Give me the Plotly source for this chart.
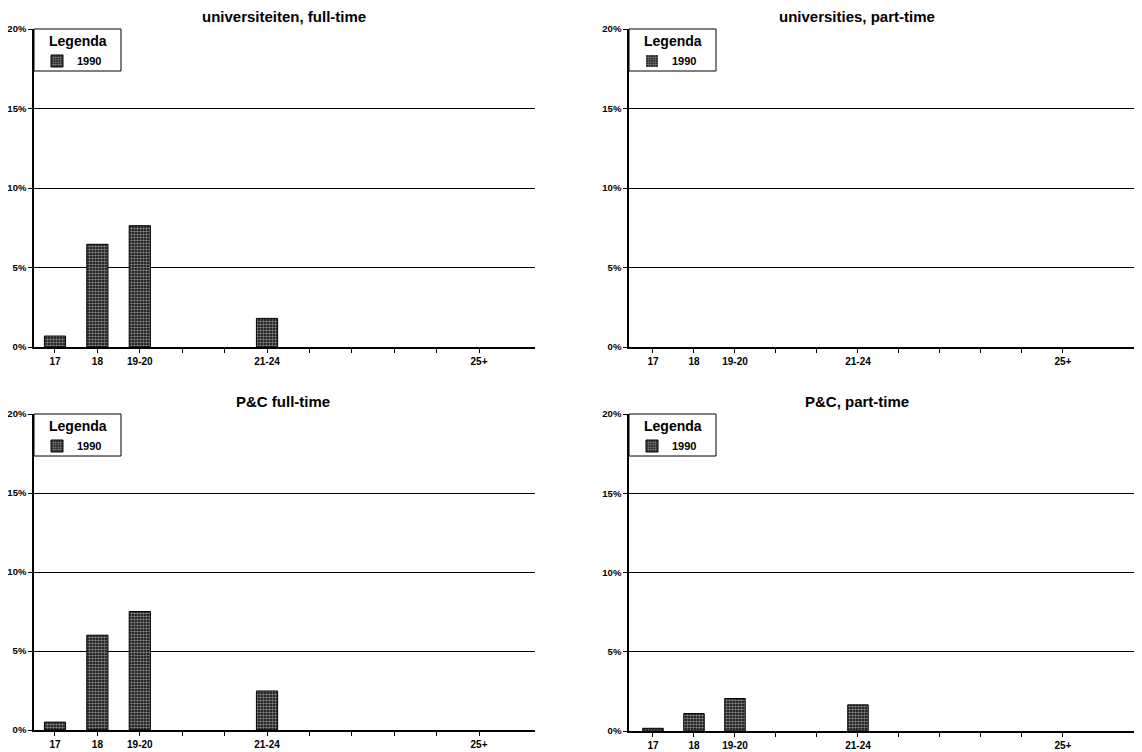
import plotly.graph_objects as go

categories = ["17", "18", "19-20", "", "", "21-24", "", "", "", "", "25+"]
univ_fulltime = [0.69, 6.46, 7.63, 0, 0, 1.8, 0, 0, 0, 0, 0]
univ_parttime = [0, 0, 0, 0, 0, 0, 0, 0, 0, 0, 0]
pc_fulltime = [0.5, 6.0, 7.5, 0, 0, 2.47, 0, 0, 0, 0, 0]
pc_parttime = [0.17, 1.1, 2.05, 0, 0, 1.65, 0, 0, 0, 0, 0]
titles = ["universiteiten, full-time", "universities, part-time", "P&C full-time", "P&C, part-time"]
y_ticks = [0, 5, 10, 15, 20]
y_ticklabels = ["0%", "5%", "10%", "15%", "20%"]
series_name = "1990"
legend_title = "Legenda"

OFF = 8  # default page margin of the html body
W, H = 1142 - OFF, 752 - OFF
FONT = "Liberation Sans"

def px_x(v):
    return (v - OFF) / W

def px_y(v):
    return 1 - (v - OFF) / H

panels = [
    # (values, x0, x1, ytop, ybottom, xrange)   screen pixels
    (univ_fulltime, 34, 535, 29, 347, [-0.495, 11.32]),
    (univ_parttime, 629, 1138, 29, 347, [-0.585, 11.83]),
    (pc_fulltime, 34, 535, 414, 730, [-0.495, 11.32]),
    (pc_parttime, 629, 1138, 414, 731, [-0.585, 11.83]),
]
title_pos = [(284, 27), (857, 27), (283, 412), (857, 412)]
LEG_W, LEG_H = 87, 42

xs = list(range(len(categories)))
fig = go.Figure()
layout = dict(
    width=W, height=H,
    margin=dict(l=0, r=0, t=0, b=0),
    paper_bgcolor="white", plot_bgcolor="white",
    template="none",
    font=dict(family=FONT, color="black"),
    annotations=[], shapes=[],
)

for i, (vals, x0, x1, yt, yb, xr) in enumerate(panels):
    n = "" if i == 0 else str(i + 1)
    leg = "legend" + n
    fig.add_trace(go.Bar(
        x=xs, y=vals, name=series_name,
        xaxis="x" + n, yaxis="y" + n, legend=leg,
        width=0.5,
        marker=dict(color="black",
                    line=dict(color="black", width=[1 if v > 0 else 0 for v in vals]),
                    pattern=dict(shape=".", fgcolor="white", bgcolor="black",
                                 size=3, solidity=0.6, fillmode="overlay")),
        showlegend=True,
    ))
    layout["xaxis" + n] = dict(
        domain=[px_x(x0), px_x(x1)], anchor="y" + n, range=xr,
        tickmode="array", tickvals=xs, ticktext=categories,
        ticks="outside", ticklen=4, tickwidth=1, tickcolor="black",
        showline=True, linecolor="black", linewidth=1.5,
        showgrid=False, zeroline=False, automargin=False, fixedrange=True,
        tickfont=dict(family=FONT, size=10, weight="bold", color="black"),
    )
    layout["yaxis" + n] = dict(
        domain=[px_y(yb), px_y(yt)], anchor="x" + n, range=[0, 20],
        tickmode="array", tickvals=y_ticks, ticktext=y_ticklabels,
        ticks="outside", ticklen=4, tickwidth=1, tickcolor="black",
        showline=True, linecolor="black", linewidth=1.5,
        showgrid=True, gridcolor="black", gridwidth=1.2, zeroline=False,
        automargin=False, fixedrange=True,
        tickfont=dict(family=FONT, size=9.5, weight="bold", color="black"),
    )
    # legend frame and heading
    layout["shapes"].append(dict(
        type="rect", xref="paper", yref="paper", layer="above",
        x0=px_x(x0), x1=px_x(x0 + LEG_W), y0=px_y(yt + LEG_H), y1=px_y(yt),
        line=dict(color="black", width=1), fillcolor="white",
    ))
    layout["annotations"].append(dict(
        text="<b>" + legend_title + "</b>",
        x=px_x(x0 + LEG_W / 2), y=px_y(yt + 12), xref="paper", yref="paper",
        xanchor="center", yanchor="middle", showarrow=False,
        font=dict(family=FONT, size=14, color="black"),
    ))
    layout[leg] = dict(
        x=px_x(x0 + 3), y=px_y(yt + 32), xanchor="left", yanchor="middle",
        bgcolor="rgba(0,0,0,0)", borderwidth=0,
        font=dict(family=FONT, size=11, weight="bold", color="black"),
        itemwidth=30, tracegroupgap=0,
    )
    tx, ty = title_pos[i]
    layout["annotations"].append(dict(
        text="<b>" + titles[i].replace("&", "&amp;") + "</b>",
        x=px_x(tx), y=px_y(ty), xref="paper", yref="paper",
        xanchor="center", yanchor="bottom", showarrow=False,
        font=dict(family=FONT, size=15, color="black"),
    ))

fig.update_layout(**layout)
fig.write_html("out.html")
